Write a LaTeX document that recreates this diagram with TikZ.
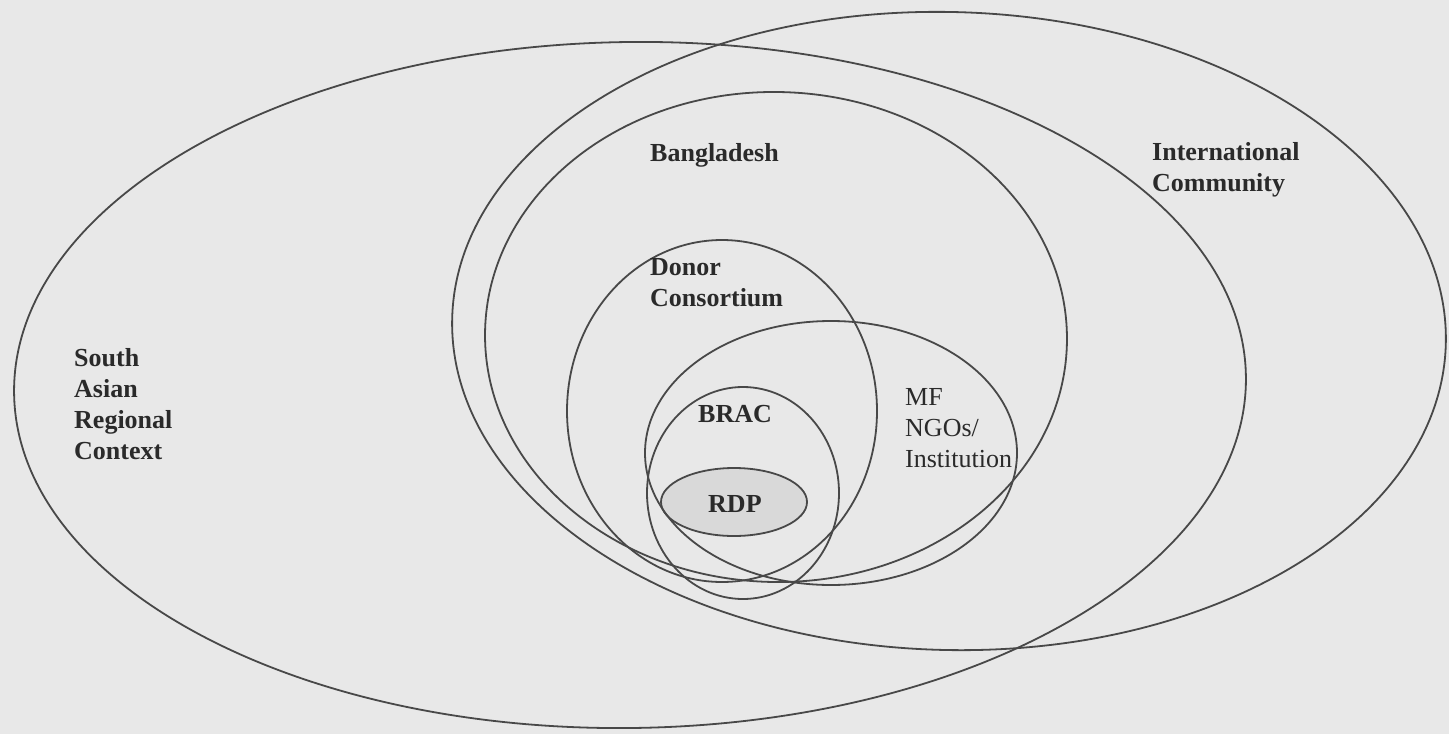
\documentclass[tikz,border=0pt]{standalone}
\usepackage{fontspec}
\setmainfont{Liberation Serif}
\definecolor{bg}{HTML}{E8E8E8}
\definecolor{ln}{HTML}{484848}
\definecolor{rdpfill}{HTML}{D9D9D9}
\definecolor{txt}{HTML}{2A2A2A}
\begin{document}
\begin{tikzpicture}[x=1pt,y=-1pt,
  ring/.style={draw=ln,line width=1.8pt},
  lbl/.style={anchor=base west,inner sep=0pt,align=left,text=txt,font=\fontsize{26}{31}\selectfont\bfseries},
  lblr/.style={lbl,font=\fontsize{26}{31}\selectfont}]
\fill[bg] (0,0) rectangle (1449,734);
\useasboundingbox (0,0) rectangle (1449,734);
% RDP fill
\fill[rdpfill] (734,502) ellipse [x radius=73,y radius=34];
% South Asian Regional Context
\draw[ring,rotate around={0.8:(630,385)}] (630,385) ellipse [x radius=616,y radius=343];
% International Community
\draw[ring,rotate around={-1.5:(949,331)}] (949,331) ellipse [x radius=497,y radius=319];
% Bangladesh
\draw[ring,rotate around={-1.2:(776,337)}] (776,337) ellipse [x radius=291,y radius=245];
% Donor Consortium
\draw[ring] (722,411) ellipse [x radius=155,y radius=171];
% MF NGOs / Institution
\draw[ring] (831,453) ellipse [x radius=186,y radius=132];
% BRAC
\draw[ring] (743,493) ellipse [x radius=96,y radius=106];
% RDP
\draw[ring] (734,502) ellipse [x radius=73,y radius=34];
% labels (anchor = baseline of last line)
\node[lbl] (sarc) at (74,459) {South\\Asian\\Regional\\Context};
\node[lbl] (bd) at (650,161) {Bangladesh};
\node[lbl] (ic) at (1152,191) {International\\Community};
\node[lbl] (dc) at (650,306) {Donor\\Consortium};
\node[lblr] (mf) at (905,467) {MF\\NGOs/\\Institution};
\node[lbl] (brac) at (698,422) {BRAC};
\node[lbl] (rdp) at (708,512) {RDP};
\end{tikzpicture}
\end{document}
